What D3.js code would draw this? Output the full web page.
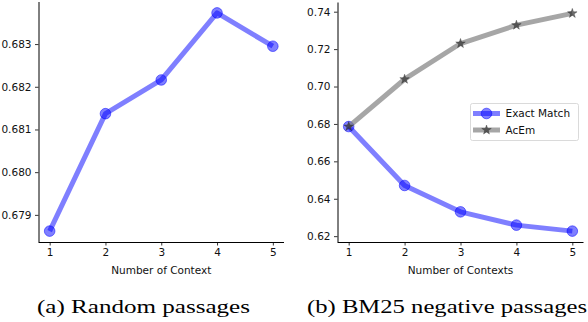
<!DOCTYPE html>
<html><head><meta charset="utf-8">
<script src="https://cdn.jsdelivr.net/npm/d3@7"></script>
<style>html,body{margin:0;padding:0;background:#fff;} svg{display:block;}</style>
</head><body>
<script>
const contexts = [1, 2, 3, 4, 5];
const randomEM = [0.67862, 0.68137, 0.68216, 0.68373, 0.68295];
const bm25EM = [0.6786, 0.6471, 0.6330, 0.6259, 0.6227];
const bm25AcEm = [0.6786, 0.7039, 0.7230, 0.7328, 0.7391];
const leftTicks = [0.679, 0.680, 0.681, 0.682, 0.683];
const rightTicks = [0.62, 0.64, 0.66, 0.68, 0.70, 0.72, 0.74];
const xLabels = ["Number of Context", "Number of Contexts"];
const captions = ["(a) Random passages", "(b) BM25 negative passages"];
const legendNames = ["Exact Match", "AcEm"];

const W = 588, H = 322;
const svg = d3.select("body").append("svg").attr("width", W).attr("height", H);
const font = "DejaVu Sans";
const blue = "rgba(0,0,255,0.5)";
const grayLine = "rgba(128,128,128,0.7)";
const starFill = "rgba(50,50,50,0.7)";

function padDomain(vals) {
  const [a, b] = d3.extent(vals);
  const p = (b - a) * 0.05;
  return [a - p, b + p];
}

function panel(x0, x1, y0, y1, allVals, ticks, fmt, xLabel) {
  const x = d3.scaleLinear().domain([0.8, 5.2]).range([x0, x1]);
  const y = d3.scaleLinear().domain(padDomain(allVals)).range([y1, y0]);
  const g = svg.append("g");
  const ya = g.append("g").attr("transform", `translate(${x0},0)`)
    .call(d3.axisLeft(y).tickValues(ticks).tickFormat(d3.format(fmt)).tickSize(3.5).tickPadding(3.5));
  const xa = g.append("g").attr("transform", `translate(0,${y1})`)
    .call(d3.axisBottom(x).tickValues(contexts).tickFormat(d3.format("d")).tickSize(3.5).tickPadding(3.5));
  [ya, xa].forEach(a => {
    a.selectAll("text").attr("font-family", font).attr("font-size", 10.5).attr("fill", "#111");
    a.selectAll("line").attr("stroke", "#000").attr("stroke-width", 0.8);
    a.select(".domain").attr("stroke", "#000").attr("stroke-width", 1);
  });
  ya.select(".domain").attr("d", `M0.5,${y0}V${y1}`);
  xa.select(".domain").attr("d", `M${x0},0.5H${x1}`);
  g.append("text").attr("x", (x0 + x1) / 2).attr("y", 274).attr("text-anchor", "middle")
    .attr("font-family", font).attr("font-size", 10.5).attr("fill", "#111").text(xLabel);
  return {x, y, g};
}

function drawCircles(p, vals) {
  const line = d3.line().x((d, i) => p.x(contexts[i])).y(d => p.y(d));
  p.g.append("path").datum(vals).attr("d", line).attr("fill", "none")
    .attr("stroke", blue).attr("stroke-width", 5).attr("stroke-linejoin", "round");
  p.g.selectAll(null).data(vals).enter().append("circle")
    .attr("cx", (d, i) => p.x(contexts[i])).attr("cy", d => p.y(d)).attr("r", 5.3)
    .attr("fill", blue).attr("stroke", blue).attr("stroke-width", 1);
}
function drawStars(p, vals) {
  const line = d3.line().x((d, i) => p.x(contexts[i])).y(d => p.y(d));
  p.g.append("path").datum(vals).attr("d", line).attr("fill", "none")
    .attr("stroke", grayLine).attr("stroke-width", 5).attr("stroke-linejoin", "round");
  const star = d3.symbol().type(d3.symbolStar).size(28);
  p.g.selectAll(null).data(vals).enter().append("path")
    .attr("d", star).attr("transform", (d, i) => `translate(${p.x(contexts[i])},${p.y(d)})`)
    .attr("fill", starFill).attr("stroke", "rgba(40,40,40,0.6)").attr("stroke-width", 0.6);
}

const L = panel(38.5, 284, 2, 242, randomEM, leftTicks, ".3f", xLabels[0]);
drawCircles(L, randomEM);

const R = panel(337.5, 583.5, 2.5, 242, bm25EM.concat(bm25AcEm), rightTicks, ".2f", xLabels[1]);
drawCircles(R, bm25EM);
drawStars(R, bm25AcEm);

// legend
const lg = svg.append("g");
lg.append("rect").attr("x", 470.5).attr("y", 103.5).attr("width", 108).attr("height", 37).attr("rx", 2)
  .attr("fill", "rgba(255,255,255,0.8)").attr("stroke", "#d0d0d0").attr("stroke-width", 0.8);
const legY = [113.5, 130];
lg.append("line").attr("x1", 473).attr("x2", 500).attr("y1", legY[0]).attr("y2", legY[0])
  .attr("stroke", blue).attr("stroke-width", 5);
lg.append("circle").attr("cx", 486.5).attr("cy", legY[0]).attr("r", 5.3).attr("fill", blue).attr("stroke", blue);
lg.append("line").attr("x1", 473).attr("x2", 500).attr("y1", legY[1]).attr("y2", legY[1])
  .attr("stroke", grayLine).attr("stroke-width", 5);
lg.append("path").attr("d", d3.symbol().type(d3.symbolStar).size(28))
  .attr("transform", `translate(486.5,${legY[1]})`).attr("fill", starFill).attr("stroke", "rgba(40,40,40,0.6)").attr("stroke-width", 0.6);
legendNames.forEach((n, i) => {
  lg.append("text").attr("x", 505.5).attr("y", legY[i]).attr("dy", "0.35em")
    .attr("font-family", font).attr("font-size", 10.5).attr("fill", "#111").text(n);
});

// captions
const capX = [37, 307], capW = [213, 280];
captions.forEach((c, i) => {
  svg.append("text").attr("x", capX[i]).attr("y", 313)
    .attr("font-family", "Liberation Serif").attr("font-size", 18.5).attr("fill", "#000")
    .attr("textLength", capW[i]).attr("lengthAdjust", "spacingAndGlyphs").text(c);
});
</script>
</body></html>
